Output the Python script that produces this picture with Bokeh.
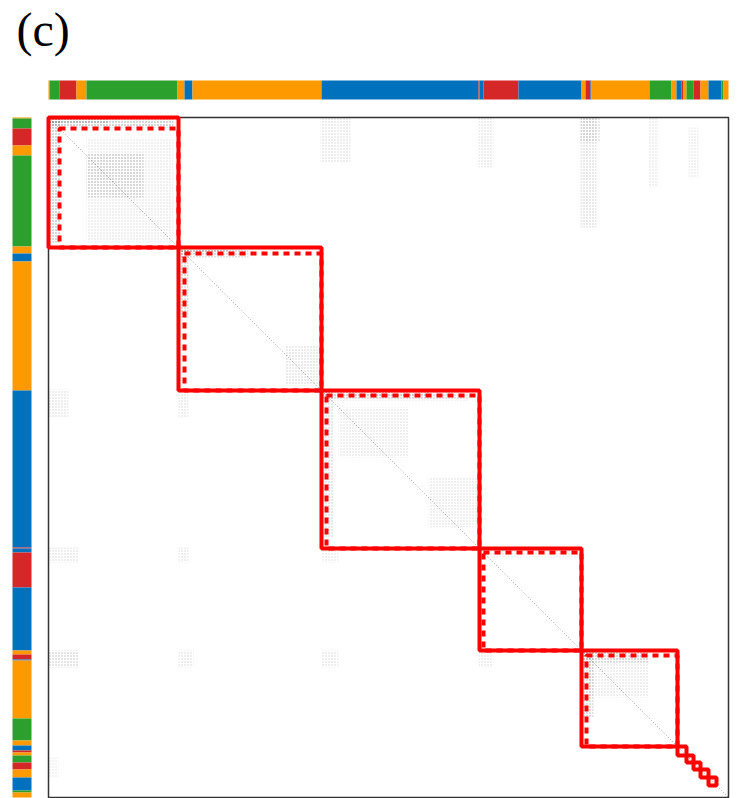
from bokeh.plotting import figure
from bokeh.models import Range1d, ColumnDataSource
from bokeh.core.properties import value
from bokeh.embed import file_html
from bokeh.resources import INLINE

# ---------------- data ----------------
N = 680  # node count (ordered)

GREEN, RED, ORANGE, BLUE = "#2ca02c", "#d62728", "#ff9900", "#0072bd"

# node label segments along the ordering (start, end, label colour)
seg_start = [0, 1, 11, 28, 38, 129, 136, 144, 273, 430, 431, 435, 470, 533, 537, 542, 543,
             601, 623, 628, 633, 635, 638, 645, 652, 660, 673, 675]
seg_end = [1, 11, 28, 38, 129, 136, 144, 273, 430, 431, 435, 470, 533, 537, 542, 543, 601,
           623, 628, 633, 635, 638, 645, 652, 660, 673, 675, 680]
seg_color = [ORANGE, GREEN, RED, ORANGE, GREEN, ORANGE, BLUE, ORANGE, BLUE, RED, BLUE, RED, BLUE,
             ORANGE, RED, BLUE, ORANGE, GREEN, ORANGE, BLUE, RED, ORANGE, GREEN, RED, ORANGE,
             BLUE, GREEN, ORANGE]

# detected blocks (solid) and core sub-blocks (dashed)
block_start = [0, 130, 273, 431, 533, 629, 638, 645, 652, 660]
block_end = [130, 273, 431, 533, 629, 638, 645, 652, 660, 668]
core_start = [11, 136, 278, 435, 538]
core_end = [130, 273, 431, 533, 629]

# regions of non-zero entries (col0, col1, row0, row1, density)
nz_c0 = [0, 0, 38, 38, 130, 130, 237, 273, 273, 290, 380, 431, 533, 533, 540,
         272, 430, 532, 600, 640, 0, 130, 0, 130, 273, 0, 130, 273, 430, 0,
         0, 532, 273, 130]
nz_c1 = [125, 12, 95, 125, 200, 140, 272, 420, 285, 360, 430, 530, 600, 545, 600,
         302, 445, 548, 610, 650, 20, 140, 30, 140, 290, 30, 145, 290, 445, 10,
         60, 552, 380, 180]
nz_r0 = [0, 0, 36, 20, 130, 130, 228, 273, 273, 290, 360, 431, 533, 533, 545,
         0, 0, 0, 0, 10, 272, 272, 430, 430, 430, 533, 533, 533, 533, 640,
         0, 0, 273, 130]
nz_r1 = [10, 125, 80, 125, 140, 200, 268, 283, 420, 340, 410, 440, 545, 600, 580,
         45, 50, 110, 70, 60, 300, 300, 445, 445, 445, 550, 550, 550, 550, 660,
         6, 25, 280, 136]
nz_den = [0.55, 0.55, 0.35, 0.18, 0.4, 0.4, 0.25, 0.35, 0.3, 0.2, 0.2, 0.18, 0.5, 0.4, 0.2,
          0.22, 0.22, 0.3, 0.18, 0.18, 0.22, 0.22, 0.22, 0.22, 0.18, 0.35, 0.22, 0.22, 0.22, 0.15,
          0.5, 0.3, 0.35, 0.35]

# ---------------- figure ----------------
p = figure(width=741, height=798, x_range=Range1d(-48, 693), y_range=Range1d(681, -117),
           x_axis_type=None, y_axis_type=None, toolbar_location=None, output_backend="svg",
           min_border=0, background_fill_color="white", border_fill_color="white")
p.outline_line_color = None
p.grid.visible = False

# non-zero texture
nz = ColumnDataSource(dict(l=nz_c0, r=nz_c1, t=nz_r0, b=nz_r1, a=nz_den))
p.quad(left="l", right="r", top="t", bottom="b", source=nz, fill_alpha=0, line_alpha=0,
       hatch_pattern="dot", hatch_color="#444444", hatch_alpha="a", hatch_scale=3, hatch_weight=1)
# diagonal
p.line([0, N], [0, N], line_color="#777777", line_width=1, line_dash="1 2", line_alpha=0.7)

# matrix frame
p.quad(left=[0], right=[N], top=[0], bottom=[N], fill_alpha=0, line_color="#333333", line_width=1.5)

# colour bars
p.quad(left=seg_start, right=seg_end, top=-37, bottom=-18, fill_color=seg_color, line_alpha=0)
p.quad(left=-36, right=-17, top=seg_start, bottom=seg_end, fill_color=seg_color, line_alpha=0)

# block rectangles
p.quad(left=core_start, right=core_end, top=core_start, bottom=core_end, fill_alpha=0,
       line_color="#ff0000", line_width=4, line_dash="6 5")
p.quad(left=block_start, right=block_end, top=block_start, bottom=block_end, fill_alpha=0,
       line_color="#ff0000", line_width=4)

# panel label
p.text(x=[-32], y=[-115], text=["(c)"], text_font=value("Liberation Serif"), text_font_size="48px",
       text_color="black", text_baseline="top", text_align="left")

open("out.html", "w").write(file_html(p, INLINE))
